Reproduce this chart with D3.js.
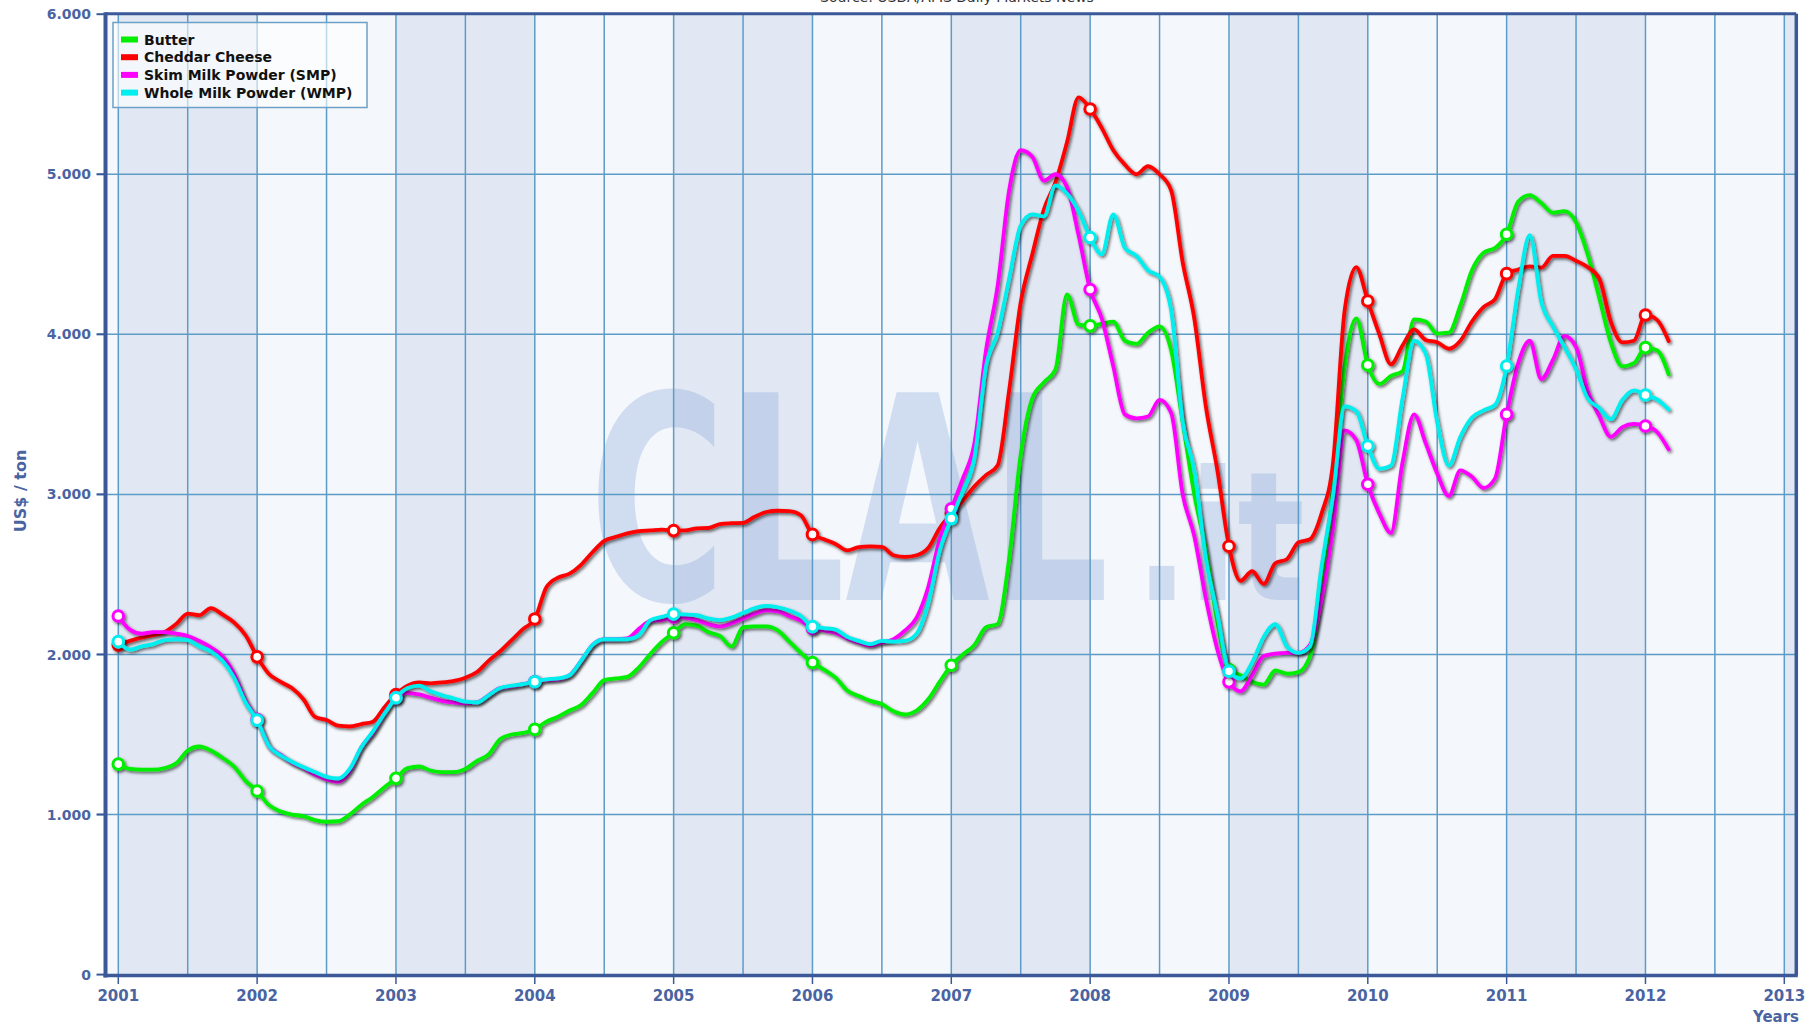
<!DOCTYPE html>
<html>
<head>
<meta charset="utf-8">
<script src="https://cdn.jsdelivr.net/npm/d3@7"></script>
<style>
  html, body { margin: 0; padding: 0; background: #ffffff; }
  svg { display: block; }
  text { font-family: "DejaVu Sans", Verdana, sans-serif; }
</style>
</head>
<body>
<svg id="chart" width="1810" height="1028"></svg>
<script>
// ---------------- DATA (monthly, Jan 2001 .. Mar 2012, US$/ton) ----------------
const seriesNames = ["Butter", "Cheddar Cheese", "Skim Milk Powder (SMP)", "Whole Milk Powder (WMP)"];
const seriesColors = ["#00ee00", "#ff0000", "#ff00ff", "#00eeee"];
const startYear = 2001;

const butter = [
  1315,1285,1280,1280,1290,1320,1400,1425,1400,1355,1300,1210,
  1147,1060,1020,1000,990,965,955,958,1000,1060,1110,1170,
  1226,1290,1300,1275,1265,1265,1285,1335,1375,1470,1500,1510,
  1532,1580,1611,1650,1684,1760,1840,1850,1860,1920,2005,2080,
  2136,2190,2180,2140,2116,2050,2170,2175,2175,2150,2080,2010,
  1950,1905,1855,1775,1740,1710,1690,1645,1625,1650,1720,1830,
  1933,2000,2060,2170,2190,2600,3250,3600,3700,3780,4250,4060,
  4053,4066,4080,3960,3940,4010,4050,3900,3450,3000,2650,2200,
  1906,1870,1830,1812,1900,1880,1890,1990,2400,3050,3800,4100,
  3808,3690,3740,3770,4094,4080,4005,4010,4180,4400,4510,4540,
  4625,4830,4870,4820,4760,4770,4700,4500,4230,3950,3800,3820,
  3917,3900,3750
];
const cheddar = [
  2060,2085,2105,2120,2140,2190,2255,2245,2290,2250,2200,2120,
  1985,1880,1830,1790,1720,1610,1590,1555,1550,1565,1580,1670,
  1750,1805,1825,1820,1825,1835,1855,1890,1960,2020,2090,2160,
  2222,2420,2480,2505,2560,2640,2710,2735,2757,2770,2775,2780,
  2774,2775,2788,2790,2815,2820,2822,2860,2890,2898,2896,2870,
  2750,2720,2690,2650,2670,2675,2672,2620,2610,2620,2665,2790,
  2880,2960,3050,3120,3180,3650,4200,4500,4780,4950,5200,5480,
  5408,5290,5150,5060,5000,5050,5000,4900,4450,4100,3550,3150,
  2676,2460,2520,2440,2570,2595,2700,2720,2880,3200,4150,4420,
  4208,4000,3813,3930,4031,3965,3950,3910,3960,4080,4170,4220,
  4379,4405,4425,4417,4490,4490,4460,4420,4350,4080,3950,3960,
  4121,4090,3958
];
const smp = [
  2240,2155,2130,2140,2140,2130,2115,2085,2045,1990,1880,1710,
  1595,1430,1375,1325,1290,1250,1220,1205,1270,1420,1510,1630,
  1730,1760,1750,1730,1710,1700,1695,1700,1745,1790,1800,1815,
  1830,1840,1845,1870,1960,2060,2095,2095,2100,2160,2210,2215,
  2235,2230,2215,2190,2175,2195,2225,2255,2275,2270,2240,2210,
  2163,2150,2135,2100,2075,2055,2075,2095,2150,2230,2420,2720,
  2910,3100,3320,3900,4300,4900,5150,5110,4960,5000,4920,4620,
  4280,4100,3800,3500,3475,3487,3590,3510,3000,2740,2350,2030,
  1829,1770,1870,1990,2005,2010,2010,2060,2350,2800,3400,3340,
  3063,2880,2760,3200,3500,3320,3130,2990,3150,3110,3040,3100,
  3500,3820,3960,3720,3840,3990,3920,3650,3490,3360,3420,3440,
  3427,3390,3281
];
const wmp = [
  2080,2030,2050,2065,2090,2095,2090,2050,2020,1960,1855,1700,
  1590,1430,1370,1330,1295,1265,1235,1225,1285,1420,1520,1630,
  1730,1790,1805,1770,1745,1725,1705,1700,1745,1790,1805,1815,
  1830,1845,1850,1870,1960,2060,2095,2095,2095,2120,2215,2235,
  2253,2250,2245,2225,2215,2230,2260,2290,2303,2295,2275,2240,
  2174,2165,2155,2110,2085,2065,2085,2080,2085,2130,2320,2650,
  2849,3020,3230,3800,4010,4350,4680,4750,4737,4930,4880,4770,
  4605,4500,4750,4540,4490,4400,4360,4150,3450,3150,2600,2250,
  1895,1850,1950,2110,2190,2050,2010,2050,2550,3000,3550,3520,
  3302,3160,3180,3600,3960,3880,3450,3180,3360,3480,3525,3560,
  3802,4280,4620,4200,4050,3920,3780,3600,3540,3470,3590,3650,
  3621,3594,3531
];

const xTickYears = [2001,2002,2003,2004,2005,2006,2007,2008,2009,2010,2011,2012,2013];
const yTickValues = [0,1000,2000,3000,4000,5000,6000];
const yTickLabels = ["0","1.000","2.000","3.000","4.000","5.000","6.000"];
const titleText = "Source: USDA/AMS Daily Markets News";
const yAxisTitle = "US$ / ton";
const xAxisTitle = "Years";

// ---------------- LAYOUT ----------------
const svg = d3.select("#chart");
const plot = { left: 105.5, right: 1796.3, top: 13.7, bottom: 975.6 };
const x = d3.scaleLinear().domain([2001, 2013]).range([118.3, 1784.3]);
const y = d3.scaleLinear().domain([0, 6000]).range([974.6, 14.2]);
const axisColor = "#3b5998";
const labelColor = "#4a64a2";
const gridColor = "#5d9cc6";

const allSeries = [butter, cheddar, smp, wmp].map((vals, i) => ({
  name: seriesNames[i],
  color: seriesColors[i],
  points: vals.map((v, k) => ({ t: startYear + k / 12, v: v, k: k }))
}));

// defs: shadow filter, clip
const defs = svg.append("defs");
const f = defs.append("filter").attr("id", "shadow")
  .attr("x", "-5%").attr("y", "-5%").attr("width", "110%").attr("height", "110%");
f.append("feDropShadow").attr("dx", 1.6).attr("dy", 1.8).attr("stdDeviation", 1.5)
  .attr("flood-color", "#000").attr("flood-opacity", 0.6);
defs.append("clipPath").attr("id", "plotclip").append("rect")
  .attr("x", plot.left).attr("y", plot.top)
  .attr("width", plot.right - plot.left).attr("height", plot.bottom - plot.top);

// title (cut by top edge, as in the source image)
svg.append("text").attr("x", 957).attr("y", 2)
  .attr("text-anchor", "middle").attr("font-size", 14).attr("fill", "#333")
  .text(titleText);

// ---------------- BACKGROUND BANDS ----------------
const bg = svg.append("g").attr("clip-path", "url(#plotclip)");
const bandStarts = d3.range(2000, 2014);
bg.selectAll("rect.band").data(bandStarts).enter().append("rect")
  .attr("class", "band")
  .attr("x", d => x(d)).attr("width", d => x(d + 1) - x(d))
  .attr("y", plot.top).attr("height", plot.bottom - plot.top)
  .attr("fill", d => (d % 2 === 1) ? "#e1e8f3" : "#f4f7fb");

// watermark (single text element with two parts)
const wmText = bg.append("text").attr("x", 589).attr("y", 600)
  .attr("fill", "#7f9fd6").attr("fill-opacity", 0.3).attr("font-weight", "bold");
wmText.append("tspan").attr("font-size", 285)
  .attr("textLength", 520).attr("lengthAdjust", "spacingAndGlyphs").text("CLAL");
wmText.append("tspan").attr("x", 1135).attr("font-size", 180)
  .attr("textLength", 170).attr("lengthAdjust", "spacingAndGlyphs").text(".it");

// ---------------- GRID ----------------
const halfYears = d3.range(2001, 2013.01, 0.5);
bg.selectAll("line.vg").data(halfYears).enter().append("line")
  .attr("x1", d => x(d)).attr("x2", d => x(d))
  .attr("y1", plot.top).attr("y2", plot.bottom)
  .attr("stroke", gridColor).attr("stroke-width", 1.5);
svg.selectAll("line.hg").data(yTickValues.filter(v => v > 0 && v < 6000)).enter().append("line")
  .attr("x1", 97).attr("x2", plot.right)
  .attr("y1", d => y(d)).attr("y2", d => y(d))
  .attr("stroke", gridColor).attr("stroke-width", 1.5);

// ---------------- LEGEND ----------------
const lg = svg.append("g");
lg.append("rect").attr("x", 113).attr("y", 22.5).attr("width", 254).attr("height", 85)
  .attr("fill", "#ffffff").attr("fill-opacity", 0.6)
  .attr("stroke", "#6ca0c6").attr("stroke-width", 1.5);
allSeries.forEach((s, i) => {
  const by = 44.5 + i * 17.7;
  lg.append("rect").attr("x", 121).attr("y", by - 8).attr("width", 17).attr("height", 6)
    .attr("fill", s.color);
  lg.append("text").attr("x", 144).attr("y", by)
    .attr("font-size", 14).attr("font-weight", "bold").attr("fill", "#111")
    .text(s.name);
});

// ---------------- LINES ----------------
const line = d3.line().x(d => x(d.t)).y(d => y(d.v)).curve(d3.curveMonotoneX);
const lines = svg.append("g").attr("clip-path", "url(#plotclip)");
allSeries.forEach(s => {
  const g = lines.append("g").attr("filter", "url(#shadow)");
  g.append("path").datum(s.points).attr("d", line)
    .attr("fill", "none").attr("stroke", s.color).attr("stroke-width", 3.8)
    .attr("stroke-linejoin", "round").attr("stroke-linecap", "round");
  g.selectAll("circle").data(s.points.filter(p => p.k % 12 === 0)).enter().append("circle")
    .attr("cx", d => x(d.t)).attr("cy", d => y(d.v)).attr("r", 5.3)
    .attr("fill", "#ffffff").attr("stroke", s.color).attr("stroke-width", 3);
});

// ---------------- AXES ----------------
const axG = svg.append("g");
axG.selectAll("line.yt").data(yTickValues).enter().append("line")
  .attr("x1", 96.5).attr("x2", plot.left).attr("y1", d => y(d)).attr("y2", d => y(d))
  .attr("stroke", axisColor).attr("stroke-width", 2);
axG.selectAll("text.yl").data(yTickValues).enter().append("text")
  .attr("x", 91).attr("y", d => y(d)).attr("dy", "0.36em")
  .attr("text-anchor", "end").attr("font-size", 14).attr("font-weight", "bold")
  .attr("fill", labelColor)
  .text((d, i) => yTickLabels[i]);
axG.selectAll("line.xt").data(xTickYears).enter().append("line")
  .attr("x1", d => x(d)).attr("x2", d => x(d)).attr("y1", plot.bottom).attr("y2", 984)
  .attr("stroke", axisColor).attr("stroke-width", 1.5);
axG.selectAll("text.xl").data(xTickYears).enter().append("text")
  .attr("x", d => x(d)).attr("y", 1001)
  .attr("text-anchor", "middle").attr("font-size", 15).attr("font-weight", "bold")
  .attr("fill", labelColor)
  .text(d => String(d));
// frame
axG.append("line").attr("x1", plot.left).attr("x2", plot.right).attr("y1", plot.top).attr("y2", plot.top)
  .attr("stroke", axisColor).attr("stroke-width", 3);
axG.append("line").attr("x1", plot.right).attr("x2", plot.right).attr("y1", plot.top).attr("y2", plot.bottom)
  .attr("stroke", axisColor).attr("stroke-width", 3.5);
axG.append("line").attr("x1", plot.left).attr("x2", plot.left).attr("y1", plot.top - 1.5).attr("y2", plot.bottom + 2)
  .attr("stroke", axisColor).attr("stroke-width", 4);
axG.append("line").attr("x1", plot.left - 2).attr("x2", plot.right + 1.5).attr("y1", plot.bottom).attr("y2", plot.bottom)
  .attr("stroke", axisColor).attr("stroke-width", 3.5);

// axis titles
svg.append("text").attr("transform", "translate(26,491) rotate(-90)")
  .attr("text-anchor", "middle").attr("font-size", 16).attr("font-weight", "bold")
  .attr("fill", labelColor).text(yAxisTitle);
svg.append("text").attr("x", 1799).attr("y", 1022)
  .attr("text-anchor", "end").attr("font-size", 15).attr("font-weight", "bold")
  .attr("fill", labelColor).text(xAxisTitle);
</script>
</body>
</html>
